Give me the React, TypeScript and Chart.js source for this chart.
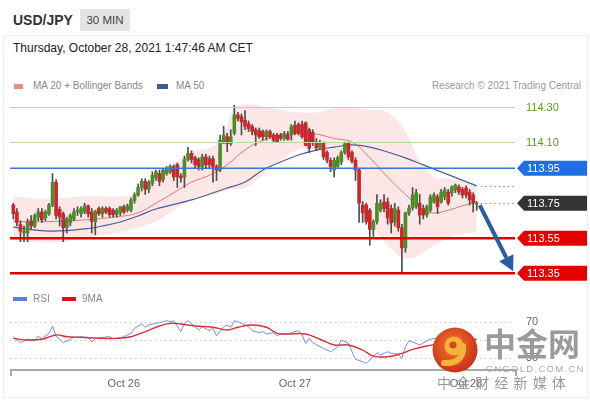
import React, { useEffect, useRef } from "react";
import { Chart, registerables } from "chart.js";

Chart.register(...registerables);

const FONT = '"Liberation Sans", Arial, Helvetica, sans-serif';

// ---- Candles (30 min), index 0..130 ----
const openPx = [
  113.74, 113.70, 113.63, 113.58, 113.58, 113.65, 113.62, 113.67, 113.70, 113.665,
  113.69, 113.74, 113.87, 113.715, 113.69, 113.61, 113.64, 113.66, 113.70, 113.69,
  113.70, 113.735, 113.70, 113.645, 113.72, 113.69, 113.72, 113.72, 113.71, 113.685,
  113.695, 113.73, 113.71, 113.71, 113.765, 113.797, 113.84, 113.875, 113.83, 113.865,
  113.895, 113.92, 113.885, 113.92, 113.93, 113.96, 113.97, 113.905, 113.90, 114.00,
  114.035, 114.01, 114.00, 113.96, 114.015, 114.005, 114.005, 113.96, 113.94, 114.10,
  114.13, 114.09, 114.15, 114.255, 114.245, 114.225, 114.205, 114.19, 114.17, 114.165,
  114.16, 114.13, 114.16, 114.14, 114.14, 114.14, 114.12, 114.14, 114.14, 114.195,
  114.20, 114.20, 114.21, 114.17, 114.155, 114.10, 114.07, 114.095, 114.04, 113.995,
  113.94, 113.96, 113.985, 114.04, 114.095, 114.04, 113.995, 113.94, 113.74, 113.74,
  113.71, 113.60, 113.645, 113.71, 113.757, 113.757, 113.72, 113.643, 113.71, 113.61,
  113.495, 113.694, 113.723, 113.73, 113.75, 113.72, 113.683, 113.71, 113.757, 113.786,
  113.757, 113.786, 113.814, 113.81, 113.826, 113.843, 113.83, 113.837, 113.814, 113.797,
  113.745,
];
const highPx = [
  113.75, 113.72, 113.65, 113.62, 113.66, 113.68, 113.69, 113.72, 113.72, 113.71,
  113.75, 113.92, 113.885, 113.73, 113.70, 113.67, 113.69, 113.72, 113.73, 113.73,
  113.75, 113.74, 113.72, 113.71, 113.73, 113.73, 113.73, 113.73, 113.72, 113.72,
  113.73, 113.74, 113.745, 113.78, 113.81, 113.86, 113.89, 113.89, 113.88, 113.93,
  113.94, 113.94, 113.95, 113.96, 113.97, 113.97, 113.98, 113.92, 114.02, 114.07,
  114.05, 114.02, 114.01, 114.03, 114.03, 114.02, 114.02, 113.97, 114.14, 114.19,
  114.15, 114.17, 114.31, 114.27, 114.26, 114.28, 114.22, 114.20, 114.18, 114.18,
  114.17, 114.17, 114.17, 114.15, 114.15, 114.15, 114.16, 114.16, 114.20, 114.22,
  114.21, 114.22, 114.215, 114.18, 114.17, 114.12, 114.11, 114.10, 114.05, 114.01,
  114.01, 114.02, 114.05, 114.10, 114.10, 114.05, 114.01, 113.95, 113.76, 113.75,
  113.72, 113.655, 113.80, 113.77, 113.80, 113.78, 113.74, 113.75, 113.73, 113.63,
  113.70, 113.74, 113.84, 113.83, 113.80, 113.74, 113.74, 113.80, 113.81, 113.80,
  113.83, 113.84, 113.83, 113.85, 113.86, 113.855, 113.84, 113.85, 113.83, 113.81,
  113.76,
];
const lowPx = [
  113.66, 113.62, 113.53, 113.53, 113.53, 113.60, 113.61, 113.65, 113.64, 113.65,
  113.68, 113.73, 113.66, 113.62, 113.53, 113.58, 113.62, 113.65, 113.68, 113.67,
  113.69, 113.67, 113.58, 113.57, 113.68, 113.67, 113.69, 113.67, 113.67, 113.67,
  113.68, 113.69, 113.70, 113.70, 113.75, 113.79, 113.82, 113.80, 113.81, 113.85,
  113.88, 113.85, 113.87, 113.91, 113.92, 113.88, 113.84, 113.87, 113.84, 113.99,
  113.98, 113.95, 113.94, 113.94, 113.95, 113.95, 113.87, 113.88, 113.93, 114.09,
  114.045, 114.08, 114.14, 114.22, 114.14, 114.17, 114.16, 114.14, 114.08, 114.12,
  114.11, 114.11, 114.12, 114.10, 114.10, 114.11, 114.11, 114.11, 114.11, 114.14,
  114.14, 114.12, 114.08, 114.04, 114.08, 114.05, 114.06, 114.00, 113.98, 113.93,
  113.90, 113.95, 113.97, 114.03, 114.00, 113.98, 113.88, 113.64, 113.64, 113.63,
  113.51, 113.56, 113.63, 113.70, 113.70, 113.63, 113.58, 113.62, 113.59, 113.355,
  113.47, 113.68, 113.71, 113.72, 113.63, 113.66, 113.67, 113.70, 113.75, 113.69,
  113.75, 113.77, 113.74, 113.79, 113.81, 113.80, 113.78, 113.78, 113.74, 113.70,
  113.71,
];
const closePx = [
  113.69, 113.64, 113.59, 113.59, 113.645, 113.62, 113.68, 113.70, 113.655, 113.70,
  113.74, 113.87, 113.68, 113.67, 113.61, 113.66, 113.68, 113.70, 113.71, 113.72,
  113.735, 113.69, 113.645, 113.705, 113.69, 113.72, 113.70, 113.685, 113.685, 113.71,
  113.73, 113.70, 113.735, 113.765, 113.797, 113.84, 113.875, 113.83, 113.87, 113.91,
  113.93, 113.875, 113.94, 113.95, 113.96, 113.90, 113.90, 113.895, 114.00, 114.035,
  114.00, 113.97, 113.96, 114.015, 113.97, 113.97, 113.96, 113.94, 114.11, 114.14,
  114.09, 114.13, 114.255, 114.235, 114.215, 114.19, 114.175, 114.16, 114.14, 114.13,
  114.13, 114.16, 114.13, 114.11, 114.10, 114.12, 114.15, 114.115, 114.19, 114.15,
  114.15, 114.13, 114.08, 114.065, 114.095, 114.065, 114.095, 114.015, 113.995, 113.96,
  113.995, 114.01, 114.04, 114.09, 114.015, 113.99, 113.94, 113.75, 113.695, 113.645,
  113.60, 113.645, 113.75, 113.75, 113.72, 113.666, 113.637, 113.72, 113.61, 113.495,
  113.694, 113.723, 113.797, 113.81, 113.683, 113.683, 113.73, 113.786, 113.797, 113.73,
  113.814, 113.826, 113.751, 113.843, 113.854, 113.814, 113.797, 113.797, 113.769, 113.751,
  113.75,
];

// ---- Bollinger bands (MA 20) ----
const bandIdx = [0, 10, 20, 30, 35, 40, 45, 50, 55, 58, 60, 62, 65, 70, 75, 80, 85, 90, 95, 98, 100, 105, 110, 114, 118, 122, 126, 130];
const bandUpper = [113.79, 113.775, 113.79, 113.79, 113.81, 113.895, 113.97, 114.045, 114.065, 114.11, 114.195, 114.295, 114.315, 114.305, 114.285, 114.27, 114.27, 114.295, 114.295, 114.29, 114.285, 114.27, 114.16, 113.99, 113.90, 113.89, 113.88, 113.855];
const bandLower = [113.54, 113.525, 113.55, 113.585, 113.61, 113.645, 113.71, 113.77, 113.795, 113.81, 113.825, 113.83, 113.835, 113.91, 113.995, 114.055, 114.055, 114.0, 113.97, 113.77, 113.655, 113.51, 113.435, 113.455, 113.51, 113.55, 113.575, 113.585];

const ma20Idx = [0, 10, 20, 30, 35, 40, 45, 50, 55, 60, 65, 70, 75, 80, 85, 90, 95, 100, 105, 110, 115, 118, 122, 126, 130];
const ma20Val = [113.645, 113.645, 113.655, 113.675, 113.695, 113.75, 113.81, 113.87, 113.91, 113.97, 114.055, 114.11, 114.14, 114.15, 114.145, 114.12, 114.10, 114.01, 113.90, 113.80, 113.71, 113.694, 113.71, 113.735, 113.757];

const ma50Idx = [0, 10, 20, 25, 30, 35, 40, 50, 60, 65, 70, 75, 80, 85, 90, 95, 100, 105, 110, 115, 120, 125, 130];
const ma50Val = [113.614, 113.591, 113.603, 113.62, 113.643, 113.677, 113.717, 113.769, 113.837, 113.871, 113.94, 113.986, 114.026, 114.054, 114.071, 114.083, 114.071, 114.043, 114.009, 113.969, 113.929, 113.889, 113.849];

// ---- RSI & 9MA ----
const rsiIdx = [
  0, 2, 4, 6, 7, 8, 10, 11, 12, 14,
  16, 17, 19, 21, 22, 23, 25, 27, 28, 30,
  31, 33, 34, 36, 37, 38, 40, 41, 43, 44,
  45, 47, 48, 49, 51, 52, 53, 55, 56, 57,
  59, 60, 61, 62, 63, 65, 66, 67, 69, 70,
  71, 73, 74, 75, 77, 78, 80, 81, 82, 83,
  84, 86, 87, 89, 91, 92, 94, 95, 96, 98,
  99, 101, 102, 103, 105, 106, 108, 109, 110, 111,
  113, 114, 116, 117, 120, 123, 126, 128, 130,
];
const rsiVal = [
  53.6, 47, 50.8, 49.2, 54.4, 50.8, 57.3, 65.3, 54.4, 47,
  50.8, 52.9, 53.6, 52.9, 47.8, 51.8, 52.9, 53.6, 51.4, 52.5,
  53.6, 57.3, 62.8, 67.5, 63.9, 66.4, 68.2, 68.9, 71.1, 70,
  71.1, 59.1, 68.2, 71.1, 64.5, 60.9, 64.5, 60.2, 62.8, 54.4,
  64.5, 66.4, 63.9, 71.1, 70, 66.4, 64.5, 60.2, 58, 59.1,
  56.6, 58, 54.4, 56.6, 56.6, 58, 60.2, 55.5, 46.4, 51.8,
  47, 42.7, 40.9, 37.2, 42.7, 50, 46.4, 37.2, 28.9, 26.3,
  24.5, 31.7, 36.1, 33.6, 37.2, 35.4, 34.7, 30, 42.7, 49.2,
  46.4, 44.5, 49.2, 50.8, 53, 55, 56, 53, 50,
];
const rsiMaIdx = [0, 4, 8, 12, 15, 19, 24, 29, 33, 37, 41, 44, 47, 51, 56, 60, 63, 67, 71, 74, 77, 82, 86, 90, 94, 98, 101, 105, 109, 112, 116, 120, 125, 130];
const rsiMaVal = [51.8, 50, 50.8, 55.5, 53.6, 52.9, 51.8, 51.8, 53.6, 59.1, 65.3, 68.2, 67.5, 65.3, 63.9, 60.9, 63.9, 66.4, 63.9, 57.3, 56.6, 56.6, 50.8, 44.5, 44.5, 39, 32.4, 31.7, 35.4, 39.8, 43.5, 46, 49, 51];

// ---- Levels & axis labels ----
const resistanceLevels = [114.3, 114.1];
const pivotLevel = 113.95;
const lastPrice = 113.75;
const supportLevels = [113.55, 113.35];
const targetPrice = 113.35;
const rsiGuides = [70, 50, 30];
const rsiGuideLabels = ["70", "", "30"];
const dayTickIdx = [31, 79, 127];
const dayLabels = ["Oct 26", "Oct 27", "Oct 28"];

const GREEN = "#4f8b2c";
const RED = "#c8282b";

function pts(idx: number[], val: number[]) {
  return idx.map((x, i) => ({ x, y: val[i] }));
}

function drawTag(ctx: CanvasRenderingContext2D, xl: number, xr: number, y: number, text: string, color: string) {
  ctx.save();
  ctx.fillStyle = color;
  ctx.beginPath();
  ctx.moveTo(xl, y);
  ctx.lineTo(xl + 7, y - 7.5);
  ctx.lineTo(xr, y - 7.5);
  ctx.lineTo(xr, y + 7.5);
  ctx.lineTo(xl + 7, y + 7.5);
  ctx.closePath();
  ctx.fill();
  ctx.fillStyle = "#fff";
  ctx.font = `11px ${FONT}`;
  ctx.textBaseline = "middle";
  ctx.textAlign = "left";
  ctx.fillText(text, xl + 10, y + 0.5);
  ctx.restore();
}

const overlayPlugin = {
  id: "overlay",
  beforeDatasetsDraw(chart: any) {
    const { ctx, chartArea: a, scales } = chart;
    const r = scales.yRsi;
    ctx.save();
    ctx.strokeStyle = "#c4c4c4";
    ctx.lineWidth = 1;
    ctx.setLineDash([1.5, 3.5]);
    rsiGuides.forEach((g) => {
      const yy = Math.round(r.getPixelForValue(g)) + 0.5;
      ctx.beginPath();
      ctx.moveTo(a.left, yy);
      ctx.lineTo(a.right, yy);
      ctx.stroke();
    });
    ctx.restore();
  },
  afterDatasetsDraw(chart: any) {
    const { ctx, chartArea: a, scales } = chart;
    const x = scales.x;
    const y = scales.y;
    ctx.save();
    ctx.strokeStyle = "#bcd9a0";
    ctx.lineWidth = 1.2;
    resistanceLevels.forEach((v) => {
      const yy = Math.round(y.getPixelForValue(v)) + 0.5;
      ctx.beginPath();
      ctx.moveTo(a.left, yy);
      ctx.lineTo(a.right, yy);
      ctx.stroke();
    });
    ctx.strokeStyle = "#3d74d6";
    ctx.lineWidth = 1.5;
    {
      const yy = y.getPixelForValue(pivotLevel);
      ctx.beginPath();
      ctx.moveTo(a.left, yy);
      ctx.lineTo(a.right, yy);
      ctx.stroke();
    }
    ctx.strokeStyle = "#e10000";
    ctx.lineWidth = 2.5;
    supportLevels.forEach((v) => {
      const yy = y.getPixelForValue(v);
      ctx.beginPath();
      ctx.moveTo(a.left, yy);
      ctx.lineTo(a.right, yy);
      ctx.stroke();
    });
    const lastIdx = closePx.length - 1;
    const lx = x.getPixelForValue(lastIdx) + 4;
    ctx.strokeStyle = "#8a8a8a";
    ctx.lineWidth = 1;
    ctx.setLineDash([1.5, 3]);
    [lastPrice, ma50Val[ma50Val.length - 1]].forEach((v) => {
      const yy = Math.round(y.getPixelForValue(v)) + 0.5;
      ctx.beginPath();
      ctx.moveTo(lx, yy);
      ctx.lineTo(a.right, yy);
      ctx.stroke();
    });
    ctx.setLineDash([]);
    const sx = x.getPixelForValue(lastIdx) + 3;
    const sy = y.getPixelForValue(closePx[lastIdx]) + 2;
    const ex = x.getPixelForValue(lastIdx + 10.2);
    const ey = y.getPixelForValue(targetPrice + 0.012);
    const ang = Math.atan2(ey - sy, ex - sx);
    const headLen = 15;
    const headW = 8;
    const bx = ex - headLen * Math.cos(ang);
    const by = ey - headLen * Math.sin(ang);
    ctx.strokeStyle = "#2c5e9e";
    ctx.fillStyle = "#2c5e9e";
    ctx.lineWidth = 4;
    ctx.beginPath();
    ctx.moveTo(sx, sy);
    ctx.lineTo(bx, by);
    ctx.stroke();
    ctx.beginPath();
    ctx.moveTo(ex, ey);
    ctx.lineTo(bx + headW * Math.sin(ang), by - headW * Math.cos(ang));
    ctx.lineTo(bx - headW * Math.sin(ang), by + headW * Math.cos(ang));
    ctx.closePath();
    ctx.fill();
    ctx.restore();
  },
  afterDraw(chart: any) {
    const { ctx, chartArea: a, scales } = chart;
    const x = scales.x;
    const y = scales.y;
    const r = scales.yRsi;
    const xl = a.right + 2;
    const xr = a.right + 72;
    ctx.save();
    ctx.font = `11px ${FONT}`;
    ctx.textBaseline = "middle";
    ctx.textAlign = "left";
    ctx.fillStyle = "#5c9a1e";
    resistanceLevels.forEach((v) => {
      ctx.fillText(v.toFixed(2), a.right + 11, y.getPixelForValue(v) + 0.5);
    });
    drawTag(ctx, xl, xr, y.getPixelForValue(pivotLevel), pivotLevel.toFixed(2), "#1f6fe3");
    drawTag(ctx, xl, xr, y.getPixelForValue(lastPrice), lastPrice.toFixed(2), "#333333");
    supportLevels.forEach((v) => drawTag(ctx, xl, xr, y.getPixelForValue(v), v.toFixed(2), "#e40000"));
    ctx.font = `11px ${FONT}`;
    ctx.fillStyle = "#666";
    rsiGuides.forEach((g, i) => {
      if (rsiGuideLabels[i]) ctx.fillText(rsiGuideLabels[i], a.right + 11, r.getPixelForValue(g));
    });
    const by = a.bottom;
    ctx.strokeStyle = "#a8a8a8";
    ctx.lineWidth = 2;
    ctx.beginPath();
    ctx.moveTo(a.left, by);
    ctx.lineTo(a.right + 2, by);
    ctx.stroke();
    ctx.beginPath();
    ctx.moveTo(a.left + 1, by);
    ctx.lineTo(a.left + 1, by + 6);
    ctx.moveTo(a.right + 1, by);
    ctx.lineTo(a.right + 1, by + 6);
    ctx.stroke();
    ctx.fillStyle = "#666";
    ctx.textAlign = "center";
    dayTickIdx.forEach((t, i) => {
      ctx.fillText(dayLabels[i], x.getPixelForValue(t), by + 14);
    });
    ctx.restore();
  },
};

function Logo() {
  return (
    <svg width={46} height={46} viewBox="0 0 46 46" style={{ position: "absolute", left: 432, top: 327 }}>
      <defs>
        <radialGradient id="lg" cx="45%" cy="40%" r="60%">
          <stop offset="0%" stopColor="#f4792a" />
          <stop offset="100%" stopColor="#c9301b" />
        </radialGradient>
      </defs>
      <circle cx={23} cy={23} r={22.5} fill="url(#lg)" />
      <circle cx={22} cy={19} r={9.5} fill="#f6b23a" />
      <circle cx={21} cy={18} r={3.6} fill="#d4461e" />
      <path d="M 31 19 C 32 31, 24 37, 12 36" stroke="#f6b23a" strokeWidth={6} fill="none" strokeLinecap="round" />
    </svg>
  );
}

export default function App() {
  const ref = useRef<HTMLCanvasElement>(null);

  useEffect(() => {
    const canvas = ref.current;
    if (!canvas) return;
    const chart = new Chart(canvas, {
      type: "line",
      data: {
        datasets: [
          {
            type: "bar",
            label: "bodies",
            data: openPx.map((o, i) => ({ x: i, y: [o, closePx[i]] })) as any,
            backgroundColor: openPx.map((o, i) => (closePx[i] >= o ? GREEN : RED)),
            barThickness: 3,
            grouped: false,
            yAxisID: "y",
            order: 1,
          } as any,
          {
            type: "bar",
            label: "wicks",
            data: lowPx.map((l, i) => ({ x: i, y: [l, highPx[i]] })) as any,
            backgroundColor: "#4d4d4d",
            barThickness: 1,
            grouped: false,
            yAxisID: "y",
            order: 2,
          } as any,
          {
            label: "MA 20",
            data: pts(ma20Idx, ma20Val),
            borderColor: "rgba(222,90,90,0.8)",
            borderWidth: 1,
            pointRadius: 0,
            tension: 0.4,
            fill: false,
            yAxisID: "y",
            order: 4,
          },
          {
            label: "MA 50",
            data: pts(ma50Idx, ma50Val),
            borderColor: "#4a5d9e",
            borderWidth: 1.2,
            pointRadius: 0,
            tension: 0.4,
            fill: false,
            yAxisID: "y",
            order: 4,
          },
          {
            label: "BB upper",
            data: pts(bandIdx, bandUpper),
            borderColor: "rgba(0,0,0,0)",
            borderWidth: 0,
            backgroundColor: "rgba(240,120,120,0.18)",
            pointRadius: 0,
            tension: 0.4,
            fill: "+1",
            yAxisID: "y",
            order: 10,
          },
          {
            label: "BB lower",
            data: pts(bandIdx, bandLower),
            borderColor: "rgba(0,0,0,0)",
            borderWidth: 0,
            pointRadius: 0,
            tension: 0.4,
            fill: false,
            yAxisID: "y",
            order: 11,
          },
          {
            label: "RSI",
            data: pts(rsiIdx, rsiVal),
            borderColor: "#7090e0",
            borderWidth: 1,
            pointRadius: 0,
            tension: 0,
            fill: false,
            yAxisID: "yRsi",
            order: 6,
          },
          {
            label: "9MA",
            data: pts(rsiMaIdx, rsiMaVal),
            borderColor: "#d93038",
            borderWidth: 1.4,
            pointRadius: 0,
            tension: 0.4,
            fill: false,
            yAxisID: "yRsi",
            order: 5,
          },
        ] as any,
      },
      options: {
        responsive: false,
        animation: false,
        events: [],
        layout: { padding: { left: 10, right: 75, top: 95, bottom: 30 } },
        plugins: { legend: { display: false }, tooltip: { enabled: false } },
        scales: {
          x: { type: "linear", axis: "x", display: false, min: -0.93, max: 140.73, offset: false },
          y: { type: "linear", axis: "y", display: false, min: 112.797, max: 114.3686 },
          yRsi: { type: "linear", axis: "y", position: "right", display: false, min: 17.2, max: 317.8 },
        },
      } as any,
      plugins: [overlayPlugin],
    });
    return () => chart.destroy();
  }, []);

  const legendText: React.CSSProperties = { position: "absolute", fontSize: 10, color: "#888", lineHeight: "12px", whiteSpace: "nowrap" };

  return (
    <div style={{ position: "fixed", left: 0, top: 0, width: 590, height: 400, background: "#fff", fontFamily: FONT, overflow: "hidden" }}>
      <div style={{ position: "absolute", left: 3, top: 35, width: 583, height: 361, border: "1px solid #ececec" }} />
      <div style={{ position: "absolute", left: 13, top: 12, fontSize: 14, fontWeight: "bold", color: "#333", lineHeight: "16px" }}>USD/JPY</div>
      <div style={{ position: "absolute", left: 80, top: 9, width: 50, height: 22, background: "#e4e4e4", textAlign: "center", fontSize: 11.5, color: "#444", lineHeight: "22px" }}>30 MIN</div>
      <div style={{ position: "absolute", left: 13, top: 41, fontSize: 12, color: "#222", lineHeight: "14px", whiteSpace: "nowrap" }}>Thursday, October 28, 2021 1:47:46 AM CET</div>

      <div style={{ position: "absolute", left: 14, top: 84, width: 9, height: 5, background: "#f08a8a" }} />
      <div style={{ ...legendText, left: 33, top: 80 }}>MA 20 + Bollinger Bands</div>
      <div style={{ position: "absolute", left: 157, top: 84, width: 11, height: 5, background: "#3f5a99" }} />
      <div style={{ ...legendText, left: 176, top: 80 }}>MA 50</div>
      <div style={{ ...legendText, right: 9, top: 80, color: "#9a9a9a" }}>Research © 2021 Trading Central</div>

      <canvas ref={ref} width={590} height={400} style={{ position: "absolute", left: 0, top: 0, width: 590, height: 400 }} />

      <div style={{ position: "absolute", left: 13, top: 297, width: 14, height: 4, background: "#5d82d8" }} />
      <div style={{ ...legendText, left: 33, top: 293 }}>RSI</div>
      <div style={{ position: "absolute", left: 62, top: 297, width: 14, height: 4, background: "#e01010" }} />
      <div style={{ ...legendText, left: 82, top: 293 }}>9MA</div>

      <Logo />
      <div style={{ position: "absolute", left: 484, top: 324, fontSize: 32, fontWeight: "bold", color: "#9b9b9b", lineHeight: "36px", fontFamily: '"Noto Sans CJK SC", sans-serif', letterSpacing: 0 }}>中金网</div>
      <div style={{ position: "absolute", left: 486, top: 363, fontSize: 9.5, color: "#aaa", lineHeight: "11px", letterSpacing: 1.3, whiteSpace: "nowrap" }}>CNGOLD.COM.CN</div>
      <div style={{ position: "absolute", left: 437, top: 374, fontSize: 14, color: "#9a9a9a", lineHeight: "16px", letterSpacing: 1, whiteSpace: "nowrap", fontFamily: '"Noto Sans CJK SC", sans-serif' }}>中 金 财 经 新 媒 体</div>
    </div>
  );
}
